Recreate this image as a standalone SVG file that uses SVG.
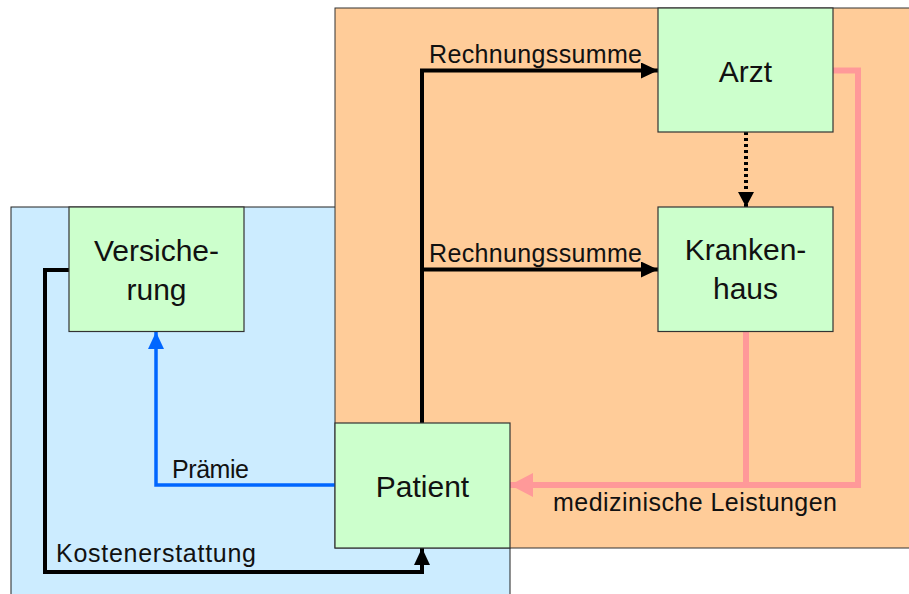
<svg xmlns="http://www.w3.org/2000/svg" width="909" height="594" viewBox="0 0 909 594">
<defs>
<style>
.node rect{fill:#CCFFCC;stroke:#333;stroke-width:1.2}
.node text{font-family:"Liberation Sans",Arial,sans-serif;font-size:30px;fill:#111;text-anchor:middle}
.lbl{font-family:"Liberation Sans",Arial,sans-serif;font-size:25px;fill:#111}
.blk{fill:none;stroke:#000;stroke-width:4}
</style>
<marker id="ab" markerUnits="userSpaceOnUse" markerWidth="18" markerHeight="16" refX="17" refY="8" orient="auto"><path d="M0,0 L17,8 L0,16 z" fill="#000"/></marker>
<marker id="ad" markerUnits="userSpaceOnUse" markerWidth="16" markerHeight="16" refX="15" refY="8" orient="auto"><path d="M0,0 L15,8 L0,16 z" fill="#000"/></marker>
<marker id="au" markerUnits="userSpaceOnUse" markerWidth="18" markerHeight="16" refX="17" refY="8" orient="auto"><path d="M0,0 L17,8 L0,16 z" fill="#0066FF"/></marker>
<marker id="ap" markerUnits="userSpaceOnUse" markerWidth="24" markerHeight="24" refX="23" refY="12" orient="auto"><path d="M0,0 L23,12 L0,24 z" fill="#FF9999"/></marker>
</defs>
<rect width="909" height="594" fill="#fff"/>
<g id="bg">
<rect x="11" y="207" width="499" height="400" fill="#CCECFF" stroke="#222" stroke-width="1"/>
<rect x="335" y="8" width="580" height="540" fill="#FFCC99" stroke="#333" stroke-width="1"/>
</g>
<g id="connectors">
<path class="blk" d="M422,423 V70.5 H658" marker-end="url(#ab)"/>
<path class="blk" d="M422,269.5 H658" marker-end="url(#ab)"/>
<path class="blk" d="M69,270 H45 V572 H422 V548" marker-end="url(#ab)"/>
<path d="M335,485 H156 V332" fill="none" stroke="#0066FF" stroke-width="3.5" marker-end="url(#au)"/>
<path d="M746,132 V207" fill="none" stroke="#000" stroke-width="4" stroke-dasharray="3,3" marker-end="url(#ad)"/>
<path d="M833,70.5 H858 V485 H510" fill="none" stroke="#FF9999" stroke-width="6" marker-end="url(#ap)"/>
<path d="M746,332 V485" fill="none" stroke="#FF9999" stroke-width="6"/>
<text class="lbl" x="429" y="63" textLength="213">Rechnungssumme</text>
<text class="lbl" x="429" y="262" textLength="213">Rechnungssumme</text>
<text class="lbl" x="172" y="478" textLength="77">Prämie</text>
<text class="lbl" x="56" y="562" textLength="200">Kostenerstattung</text>
<text class="lbl" x="553" y="511" textLength="284">medizinische Leistungen</text>
</g>
<g id="versicherung" class="node"><rect x="69" y="207" width="175" height="124.5"/><text x="156.5" y="261">Versiche-</text><text x="156.5" y="300">rung</text></g>
<g id="arzt" class="node"><rect x="658" y="8" width="175" height="124"/><text x="745.5" y="82">Arzt</text></g>
<g id="krankenhaus" class="node"><rect x="658" y="207" width="175" height="124.5"/><text x="745.5" y="260">Kranken-</text><text x="745.5" y="299">haus</text></g>
<g id="patient" class="node"><rect x="335" y="423" width="175" height="125"/><text x="422.5" y="497">Patient</text></g>
</svg>
